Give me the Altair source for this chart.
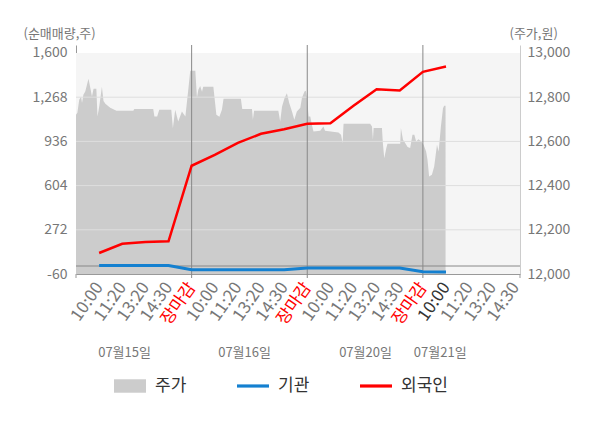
import altair as alt
import pandas as pd

FONT = "Noto Sans CJK KR"

# ---- data ----
tick_labels = ["10:00", "11:20", "13:20", "14:30", "장마감"] * 3 + ["10:00", "11:20", "13:20", "14:30"]
tick_pos = list(range(1, 20))
day_lines = [5, 10, 15]
edge_ticks = [0, 19.2]
date_labels = ["07월15일", "07월16일", "07월20일", "07월21일"]
date_pos = [2.10, 7.29, 12.52, 15.75]

left_ticks = [-60, 272, 604, 936, 1268, 1600]
grid_vals = [272, 604, 936, 1268]
right_ticks = [12000, 12200, 12400, 12600, 12800, 13000]

slot = list(range(1, 17))
foreign = [98, 167, 180, 186, 753, 835, 925, 993, 1027, 1068, 1073, 1203, 1328, 1318, 1458, 1498]
inst = [3, 3, 3, 3, -28, -28, -28, -28, -28, -15, -15, -15, -15, -15, -43, -45]

price_t = [0.00, 0.06, 0.14, 0.22, 0.26, 0.32, 0.40, 0.54, 0.62, 0.69,
           0.76, 0.88, 0.93, 1.01, 1.12, 1.19, 1.27, 1.48, 1.75, 2.48,
           2.52, 3.34, 3.39, 3.51, 3.60, 4.12, 4.19, 4.29, 4.42, 4.58,
           4.73, 4.87, 4.94, 5.16, 5.23, 5.29, 5.37, 5.45, 5.50, 5.94,
           6.07, 6.20, 6.31, 6.38, 7.13, 7.19, 7.61, 7.65, 7.70, 8.75,
           8.83, 8.91, 9.02, 9.12, 9.22, 9.34, 9.44, 9.55, 9.70, 9.77,
           9.88, 9.94, 9.99, 10.06, 10.13, 10.20, 10.27, 10.56, 10.65, 10.70,
           10.77, 11.35, 11.46, 11.53, 11.57, 12.72, 12.80, 12.84, 12.87, 13.23,
           13.27, 13.33, 13.42, 13.47, 14.02, 14.05, 14.14, 14.24, 14.34, 14.45,
           14.55, 14.63, 14.71, 14.81, 14.93, 15.03, 15.14, 15.20, 15.27, 15.39,
           15.49, 15.61, 15.68, 15.78, 15.87, 15.92, 15.98]
price_v = [12720, 12729, 12788, 12802, 12774, 12811, 12826, 12883, 12842, 12803,
           12838, 12838, 12712, 12761, 12847, 12783, 12770, 12752, 12738, 12738,
           12747, 12747, 12712, 12712, 12743, 12743, 12661, 12743, 12690, 12735,
           12712, 12848, 12919, 12919, 12797, 12833, 12851, 12824, 12847, 12847,
           12720, 12711, 12743, 12793, 12793, 12747, 12747, 12698, 12738, 12738,
           12690, 12758, 12796, 12818, 12774, 12735, 12698, 12735, 12752, 12796,
           12826, 12829, 12797, 12712, 12712, 12675, 12645, 12648, 12660, 12667,
           12648, 12640, 12630, 12592, 12680, 12680, 12667, 12607, 12660, 12660,
           12592, 12524, 12570, 12589, 12589, 12660, 12607, 12592, 12574, 12570,
           12630, 12630, 12600, 12610, 12600, 12585, 12554, 12517, 12441, 12449,
           12486, 12585, 12554, 12667, 12750, 12761, 12761]

series_names = ["주가", "기관", "외국인"]
series_colors = ["#cccccc", "#1480d0", "#ff0000"]
series_shapes = ["M-1,-0.42L1,-0.42L1,0.42L-1,0.42Z",
                 "M-1,-0.1L1,-0.1L1,0.1L-1,0.1Z",
                 "M-1,-0.1L1,-0.1L1,0.1L-1,0.1Z"]

# ---- tables ----
price_df = pd.DataFrame({"t": price_t, "p": price_v})
line_df = pd.DataFrame({"s": slot, "f": foreign, "i": inst})
grid_df = pd.DataFrame({"v": grid_vals})
day_df = pd.DataFrame({"d": day_lines})
edge_df = pd.DataFrame({"d": edge_ticks})
date_df = pd.DataFrame({"p": date_pos, "d": date_labels})
leg_df = pd.DataFrame({"series": series_names})

xs = alt.Scale(domain=[0, 19.2], nice=False, zero=False)
ls = alt.Scale(domain=[-60, 1660], nice=False, zero=False)
rs = alt.Scale(domain=[12000, 13036], nice=False, zero=False)

label_expr = "[" + ",".join(f"'{l}'" for l in tick_labels) + "][datum.value - 1]"
color_expr = "datum.value == 16 ? '#333333' : (datum.value % 5 == 0 ? '#ff0000' : '#777777')"

x_axis = alt.Axis(
    values=tick_pos, labelExpr=label_expr, labelAngle=-55, labelAlign="right",
    labelBaseline="middle", labelFontSize=17, labelFont=FONT,
    labelColor={"expr": color_expr},
    ticks=False, domainColor="#999999", grid=False, title=None, labelPadding=10,
    labelOverlap=False, labelFlush=False, labelBound=False,
)
left_axis = alt.Axis(
    orient="left", values=left_ticks, format=",d", ticks=False, labelPadding=9,
    labelExpr="replace(datum.label, '\u2212', '-')",
    labelFontSize=14, labelColor="#777777", labelFont=FONT, domainColor="#999999",
    grid=False, title="(순매매량,주)", titleAngle=0, titleX=-53, titleY=-12,
    titleAlign="left", titleBaseline="middle", titleFontSize=13,
    titleFontWeight="normal", titleColor="#777777", titleFont=FONT,
)
right_axis = alt.Axis(
    orient="right", values=right_ticks, format=",d", ticks=False, labelPadding=7,
    labelFontSize=14, labelColor="#777777", labelFont=FONT, domainColor="#cccccc",
    grid=False, title="(주가,원)", titleAngle=0, titleX=-11, titleY=-12,
    titleAlign="left", titleBaseline="middle", titleFontSize=13,
    titleFontWeight="normal", titleColor="#777777", titleFont=FONT,
)

bg = alt.Chart(pd.DataFrame({"a": [0]})).mark_rect(color="#f5f5f5").encode(
    x=alt.X(datum=0, type="quantitative", scale=xs, axis=x_axis),
    x2=alt.X2(datum=19.2),
    y=alt.Y(datum=-60, type="quantitative", scale=ls, axis=None),
    y2=alt.Y2(datum=1600),
)

area = alt.Chart(price_df).mark_area(color="#cccccc", interpolate="linear").encode(
    x=alt.X("t:Q", scale=xs, axis=x_axis),
    y=alt.Y("p:Q", scale=rs, axis=right_axis),
    y2=alt.Y2(datum=12000),
)

grid = alt.Chart(grid_df).mark_rule(color="#dedede", strokeWidth=1).encode(
    y=alt.Y("v:Q", scale=ls, axis=left_axis),
)

zero = alt.Chart(pd.DataFrame({"a": [0]})).mark_rule(color="#888888", strokeWidth=1).encode(
    y=alt.Y(datum=0, type="quantitative", scale=ls, axis=None),
)

days = alt.Chart(day_df).mark_rule(color="#888888", strokeWidth=1).encode(
    x=alt.X("d:Q", scale=xs, axis=x_axis),
    y=alt.value(0), y2=alt.value(233),
)

edges = alt.Chart(edge_df).mark_rule(color="#999999", strokeWidth=1).encode(
    x=alt.X("d:Q", scale=xs, axis=x_axis),
    y=alt.value(229), y2=alt.value(233),
)

red = alt.Chart(line_df).mark_line(color="#ff0000", strokeWidth=2.5).encode(
    x=alt.X("s:Q", scale=xs, axis=x_axis),
    y=alt.Y("f:Q", scale=ls, axis=None),
)

blue = alt.Chart(line_df).mark_line(color="#1480d0", strokeWidth=3).encode(
    x=alt.X("s:Q", scale=xs, axis=x_axis),
    y=alt.Y("i:Q", scale=ls, axis=None),
)

dates = alt.Chart(date_df).mark_text(
    font=FONT, fontSize=13, color="#777777", align="center", baseline="middle"
).encode(
    x=alt.X("p:Q", scale=xs, axis=x_axis),
    y=alt.value(308),
    text="d:N",
)

leg = alt.Legend(
    title=None, orient="none", legendX=38, legendY=325, direction="horizontal",
    symbolSize=1024, symbolStrokeWidth=0, labelFontSize=17, labelFont=FONT,
    labelColor="#333333", labelOffset=9, columnPadding=35, padding=0,
    gridAlign="all",
)
legend_layer = alt.Chart(leg_df).mark_point(filled=True, opacity=1, size=1024).encode(
    color=alt.Color("series:N", scale=alt.Scale(domain=series_names, range=series_colors), legend=leg),
    shape=alt.Shape("series:N", scale=alt.Scale(domain=series_names, range=series_shapes), legend=leg),
).transform_filter("false")

chart = alt.layer(bg, area, grid, zero, days, edges, blue, red, dates, legend_layer).resolve_scale(
    y="independent"
).properties(
    width=444, height=229, autosize="none",
    padding={"left": 68, "top": 37, "right": 72, "bottom": 146},
).configure_view(strokeWidth=0)

chart.save("out.html", embed_options={"renderer": "svg", "actions": False})
